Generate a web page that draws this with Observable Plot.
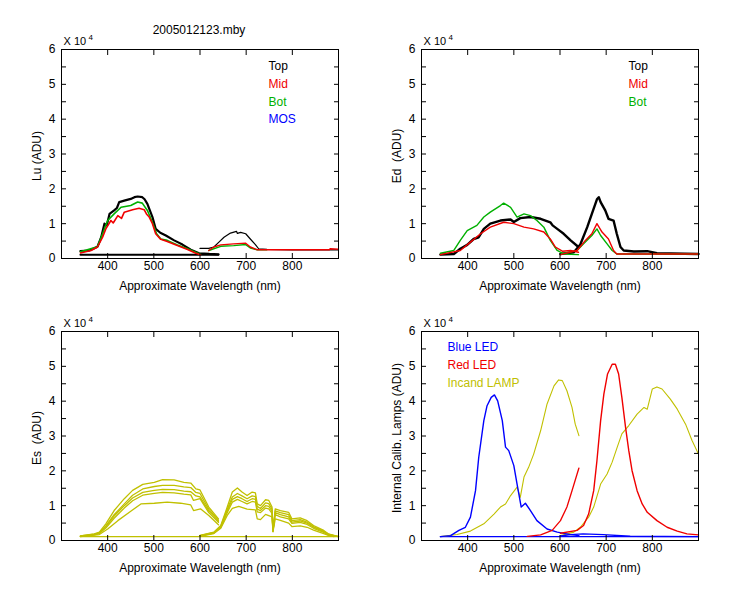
<!DOCTYPE html>
<html><head><meta charset="utf-8">
<script src="https://cdn.jsdelivr.net/npm/d3@7"></script>
<script src="https://cdn.jsdelivr.net/npm/@observablehq/plot@0.6"></script>
<style>
body{margin:0;background:#fff;}
#wrap{position:relative;width:750px;height:600px;background:#fff;overflow:hidden;}
.p{position:absolute;}
</style></head><body><div id="wrap"></div>
<script>
// ---------- data (wavelength nm, value in units of 10^4 ADU) ----------
const xTicks = [400, 500, 600, 700, 800];
const yLabelTicks = [0, 1, 2, 3, 4, 5, 6];
const yTickMarks = [0, 0.5, 1, 1.5, 2, 2.5, 3, 3.5, 4, 4.5, 5, 5.5, 6];

// Lu
const luTopA = [[341,0.21],[360,0.23],[378,0.34],[386,0.61],[393,1.0],[398,0.95],[404,1.28],[414,1.38],[420,1.45],[425,1.62],[436,1.66],[450,1.71],[458,1.76],[465,1.78],[475,1.76],[480,1.70],[486,1.57],[497,1.19],[504,0.85],[514,0.74],[526,0.66],[544,0.52],[562,0.40],[580,0.25],[598,0.15],[620,0.13],[640,0.12]];
const luTopB = [[600,0.29],[619,0.29],[630,0.33],[641,0.47],[652,0.61],[666,0.73],[679,0.78],[681,0.72],[688,0.75],[699,0.71],[709,0.56],[720,0.40],[727,0.28],[745,0.26],[800,0.25],[900,0.25]];
const luBase = [[341,0.11],[640,0.11]];
const luMidA = [[341,0.16],[364,0.23],[378,0.33],[389,0.61],[396,0.85],[407,1.09],[412,1.02],[422,1.23],[430,1.15],[436,1.33],[454,1.40],[468,1.44],[479,1.40],[484,1.28],[490,1.19],[497,1.0],[504,0.71],[515,0.55],[529,0.49],[551,0.37],[573,0.26],[591,0.15],[601,0.11]];
const luMidB = [[619,0.23],[630,0.33],[645,0.39],[673,0.42],[699,0.44],[709,0.33],[724,0.25],[880,0.25],[882,0.28],[900,0.27]];
const luBotA = [[341,0.19],[378,0.34],[389,0.71],[400,1.09],[414,1.28],[429,1.47],[450,1.52],[465,1.62],[475,1.59],[486,1.38],[497,1.04],[506,0.71],[515,0.56],[529,0.52],[551,0.39],[573,0.28],[594,0.16],[601,0.13]];
const luBotB = [[619,0.23],[645,0.35],[673,0.37],[699,0.40],[709,0.30],[724,0.25],[745,0.25]];

// Ed
const edTopA = [[341,0.11],[370,0.13],[384,0.28],[399,0.39],[413,0.56],[424,0.61],[435,0.85],[449,1.0],[471,1.09],[493,1.12],[500,1.05],[514,1.16],[536,1.19],[558,1.14],[579,1.04],[584,0.95],[594,0.85],[608,0.71],[623,0.52],[640,0.33]];
const edTopB = [[601,0.13],[630,0.18],[644,0.40],[659,0.90],[669,1.28],[680,1.70],[684,1.76],[688,1.62],[698,1.38],[705,1.14],[716,1.09],[723,0.71],[731,0.33],[738,0.23],[760,0.20],[789,0.21],[810,0.15],[900,0.13]];
const edMidA = [[341,0.11],[384,0.23],[406,0.47],[428,0.71],[449,0.90],[478,1.04],[500,1.0],[522,0.90],[543,0.85],[565,0.76],[579,0.56],[590,0.33],[605,0.21],[623,0.23],[640,0.18]];
const edMidB = [[601,0.11],[637,0.23],[655,0.52],[669,0.71],[680,1.0],[691,0.76],[705,0.56],[716,0.23],[723,0.13],[900,0.13]];
const edBotA = [[341,0.15],[370,0.23],[384,0.52],[399,0.80],[420,0.95],[435,1.19],[449,1.33],[471,1.52],[478,1.59],[493,1.47],[507,1.19],[522,1.28],[536,1.23],[550,1.09],[565,0.90],[579,0.52],[594,0.23],[608,0.13],[640,0.11]];
const edBotB = [[601,0.13],[637,0.23],[651,0.42],[669,0.66],[680,0.85],[688,0.66],[702,0.42],[713,0.23],[723,0.13],[900,0.13]];

// Es
const es1A = [[341,0.13],[371,0.19],[382,0.24],[396,0.48],[414,0.86],[436,1.20],[454,1.44],[476,1.61],[501,1.67],[519,1.75],[544,1.74],[565,1.67],[580,1.65],[591,1.48],[600,1.45],[619,0.96],[640,0.62]];
const es2A = [[341,0.13],[371,0.18],[382,0.22],[396,0.42],[414,0.74],[436,1.05],[454,1.30],[476,1.48],[501,1.55],[519,1.58],[544,1.58],[565,1.54],[580,1.52],[591,1.38],[600,1.35],[619,0.90],[640,0.58]];
const es3A = [[341,0.12],[371,0.17],[382,0.21],[396,0.40],[414,0.70],[436,1.00],[454,1.22],[476,1.38],[501,1.44],[519,1.47],[544,1.46],[565,1.42],[580,1.40],[591,1.28],[600,1.25],[619,0.85],[640,0.55]];
const es4A = [[341,0.12],[371,0.16],[382,0.20],[396,0.36],[414,0.64],[436,0.93],[454,1.14],[476,1.30],[501,1.35],[519,1.38],[544,1.37],[565,1.33],[580,1.31],[586,1.15],[600,1.20],[619,0.80],[640,0.52]];
const es5A = [[341,0.11],[382,0.17],[400,0.33],[422,0.57],[450,0.84],[472,1.05],[501,1.07],[529,1.10],[558,1.07],[580,1.02],[586,0.86],[601,0.91],[619,0.72],[640,0.45]];
const es1B = [[600,0.15],[630,0.24],[645,0.43],[659,0.96],[670,1.39],[681,1.51],[691,1.39],[702,1.29],[713,1.39],[720,1.37],[724,1.05],[731,1.0],[742,1.17],[749,1.15],[756,0.96],[758,0.29],[763,0.91],[774,0.86],[792,0.81],[799,0.62],[817,0.65],[832,0.57],[846,0.43],[868,0.29],[878,0.19],[900,0.11]];
const es2B = [[600,0.14],[630,0.23],[645,0.41],[659,0.90],[670,1.25],[681,1.35],[691,1.28],[702,1.20],[713,1.28],[720,1.26],[724,0.98],[731,0.92],[742,1.08],[749,1.06],[756,0.90],[758,0.28],[763,0.85],[774,0.80],[792,0.74],[799,0.57],[817,0.60],[832,0.53],[846,0.40],[868,0.27],[878,0.18],[900,0.11]];
const es3B = [[600,0.13],[630,0.22],[645,0.39],[659,0.85],[670,1.18],[681,1.26],[691,1.20],[702,1.12],[713,1.20],[720,1.18],[724,0.90],[731,0.86],[742,1.00],[749,0.98],[756,0.84],[758,0.27],[763,0.80],[774,0.74],[792,0.68],[799,0.53],[817,0.56],[832,0.50],[846,0.38],[868,0.25],[878,0.17],[900,0.11]];
const es4B = [[600,0.13],[630,0.21],[645,0.37],[659,0.80],[670,1.10],[681,1.18],[691,1.12],[702,1.05],[713,1.12],[720,1.10],[724,0.82],[731,0.80],[742,0.93],[749,0.91],[756,0.78],[758,0.26],[763,0.74],[774,0.68],[792,0.62],[799,0.49],[817,0.52],[832,0.46],[846,0.35],[868,0.23],[878,0.16],[900,0.11]];
const es5B = [[600,0.12],[630,0.20],[645,0.35],[659,0.72],[670,0.92],[684,0.98],[702,0.90],[720,0.88],[724,0.62],[731,0.60],[742,0.75],[756,0.68],[758,0.25],[763,0.62],[774,0.58],[792,0.50],[799,0.40],[817,0.42],[832,0.38],[846,0.30],[868,0.20],[878,0.15],[890,0.11]];
const esBase = [[341,0.11],[900,0.11]];

// Internal calibration lamps
const blueA = [[341,0.11],[363,0.14],[381,0.29],[395,0.38],[406,0.67],[417,1.43],[424,2.39],[435,3.44],[442,3.87],[451,4.11],[458,4.18],[465,4.01],[475,3.44],[482,2.68],[489,2.58],[500,2.15],[507,1.62],[516,0.96],[525,1.07],[536,0.86],[550,0.57],[572,0.33],[594,0.24],[623,0.17],[641,0.14]];
const blueB = [[601,0.13],[623,0.17],[650,0.19],[694,0.17],[752,0.12],[900,0.11]];
const blueBase = [[341,0.11],[900,0.11]];
const redA = [[529,0.12],[558,0.16],[583,0.29],[601,0.57],[615,0.96],[626,1.43],[637,1.91],[641,2.08]];
const redB = [[601,0.21],[637,0.29],[651,0.43],[662,0.76],[673,1.43],[680,2.29],[688,3.44],[695,4.20],[703,4.78],[713,5.06],[720,5.06],[727,4.78],[734,4.11],[742,3.25],[749,2.58],[756,2.01],[767,1.43],[778,1.05],[789,0.81],[810,0.57],[832,0.38],[854,0.27],[875,0.19],[900,0.16]];
const lampA = [[341,0.11],[377,0.17],[406,0.27],[435,0.48],[457,0.76],[471,0.96],[482,1.05],[493,1.29],[507,1.53],[514,1.24],[522,1.82],[532,2.10],[543,2.48],[558,3.15],[572,3.92],[587,4.44],[597,4.61],[605,4.59],[615,4.30],[626,3.82],[633,3.34],[641,3.01]];
const lampB = [[601,0.14],[630,0.24],[644,0.38],[662,0.67],[673,0.96],[688,1.62],[702,1.91],[713,2.25],[724,2.68],[734,3.06],[749,3.30],[767,3.63],[782,3.82],[789,3.77],[800,4.35],[810,4.41],[821,4.35],[839,4.06],[854,3.77],[872,3.34],[886,2.87],[900,2.48]];

const BLACK = "#000000", RED = "#f00000", GREEN = "#00b000", BLUE = "#0000ff", OLIVE = "#c0c000";

// ---------- drawing ----------
const FONT = "'Liberation Sans', Arial, sans-serif";

function panel({yLabel, lines, legend = [], title = null}) {
  const marks = [];
  for (const l of lines) {
    marks.push(Plot.line(l.data, {x: d => d[0], y: d => d[1], stroke: l.color, strokeWidth: l.width || 1.2}));
  }
  marks.push(Plot.frame({stroke: "#000"}));
  marks.push(Plot.axisY(yTickMarks, {anchor: "left", tickSize: 5, dx: 5, tickFormat: () => "", label: null}));
  marks.push(Plot.axisY(yTickMarks, {anchor: "right", tickSize: 5, dx: -5, tickFormat: () => "", label: null}));
  marks.push(Plot.axisY(yLabelTicks, {anchor: "left", tickSize: 0, tickPadding: 6, fontSize: 12, label: null}));
  marks.push(Plot.axisX(xTicks, {anchor: "bottom", tickSize: 5, dy: -5, tickFormat: () => "", label: null}));
  marks.push(Plot.axisX(xTicks, {anchor: "top", tickSize: 5, dy: 5, tickFormat: () => "", label: null}));
  marks.push(Plot.axisX(xTicks, {anchor: "bottom", tickSize: 0, tickPadding: 3, fontSize: 12, label: null}));
  marks.push(Plot.text(["Approximate Wavelength (nm)"], {frameAnchor: "bottom", lineAnchor: "middle", dy: 28, fontSize: 12}));
  marks.push(Plot.text([yLabel], {frameAnchor: "left", textAnchor: "middle", lineAnchor: "middle", rotate: -90, dx: -24, dy: 2, fontSize: 12}));
  marks.push(Plot.text(["X 10"], {frameAnchor: "top-left", textAnchor: "start", lineAnchor: "middle", dx: 2, dy: -8, fontSize: 11}));
  marks.push(Plot.text(["4"], {frameAnchor: "top-left", textAnchor: "start", lineAnchor: "middle", dx: 27, dy: -12, fontSize: 8}));
  if (title) marks.push(Plot.text([title], {frameAnchor: "top", lineAnchor: "middle", dy: -19, dx: -1, fontSize: 12}));
  legend.forEach((g, i) => {
    marks.push(Plot.text([g.text], {frameAnchor: "top-left", textAnchor: "start", lineAnchor: "middle", dx: g.dx, dy: g.dy + i * 17.7, fill: g.color, fontSize: 12}));
  });
  return Plot.plot({
    width: 375, height: 300,
    marginLeft: 61, marginRight: 37, marginTop: 49, marginBottom: 42,
    x: {domain: [300, 900]},
    y: {domain: [0, 6]},
    style: {fontFamily: FONT, fontSize: "12px", color: "#000", background: "transparent", overflow: "visible"},
    marks
  });
}

const panels = [
  {left: 0, top: 0, chart: panel({
    yLabel: "Lu (ADU)", title: "2005012123.mby",
    lines: [
      {data: luBase, color: BLACK, width: 2},
      {data: luTopA, color: BLACK, width: 2.2},
      {data: luTopB, color: BLACK, width: 1.2},
      {data: luBotA, color: GREEN, width: 1.6},
      {data: luBotB, color: GREEN, width: 1.4},
      {data: luMidA, color: RED, width: 1.6},
      {data: luMidB, color: RED, width: 1.4}
    ],
    legend: [
      {text: "Top", color: BLACK, dx: 207, dy: 17},
      {text: "Mid", color: RED, dx: 207, dy: 17},
      {text: "Bot", color: GREEN, dx: 207, dy: 17},
      {text: "MOS", color: BLUE, dx: 207, dy: 17}
    ]
  })},
  {left: 360, top: 0, chart: panel({
    yLabel: "Ed  (ADU)",
    lines: [
      {data: edTopA, color: BLACK, width: 2.4},
      {data: edTopB, color: BLACK, width: 2.4},
      {data: edBotA, color: GREEN, width: 1.4},
      {data: edBotB, color: GREEN, width: 1.4},
      {data: edMidA, color: RED, width: 1.4},
      {data: edMidB, color: RED, width: 1.4}
    ],
    legend: [
      {text: "Top", color: BLACK, dx: 207, dy: 17},
      {text: "Mid", color: RED, dx: 207, dy: 17},
      {text: "Bot", color: GREEN, dx: 207, dy: 17}
    ]
  })},
  {left: 0, top: 282, chart: panel({
    yLabel: "Es  (ADU)",
    lines: [esBase, es1A, es2A, es3A, es4A, es5A, es1B, es2B, es3B, es4B, es5B].map(d => ({data: d, color: OLIVE, width: 1.3}))
  })},
  {left: 360, top: 282, chart: panel({
    yLabel: "Internal Calib. Lamps (ADU)",
    lines: [
      {data: blueBase, color: BLUE, width: 1.2},
      {data: lampA, color: OLIVE, width: 1.1},
      {data: lampB, color: OLIVE, width: 1.1},
      {data: blueA, color: BLUE, width: 1.4},
      {data: blueB, color: BLUE, width: 1.4},
      {data: redA, color: RED, width: 1.3},
      {data: redB, color: RED, width: 1.4}
    ],
    legend: [
      {text: "Blue LED", color: BLUE, dx: 26, dy: 16},
      {text: "Red LED", color: RED, dx: 26, dy: 16},
      {text: "Incand LAMP", color: OLIVE, dx: 26, dy: 16}
    ]
  })}
];

const wrap = document.getElementById("wrap");
for (const p of panels) {
  const d = document.createElement("div");
  d.className = "p";
  d.style.left = p.left + "px";
  d.style.top = p.top + "px";
  d.appendChild(p.chart);
  wrap.appendChild(d);
}
</script>
</body></html>
